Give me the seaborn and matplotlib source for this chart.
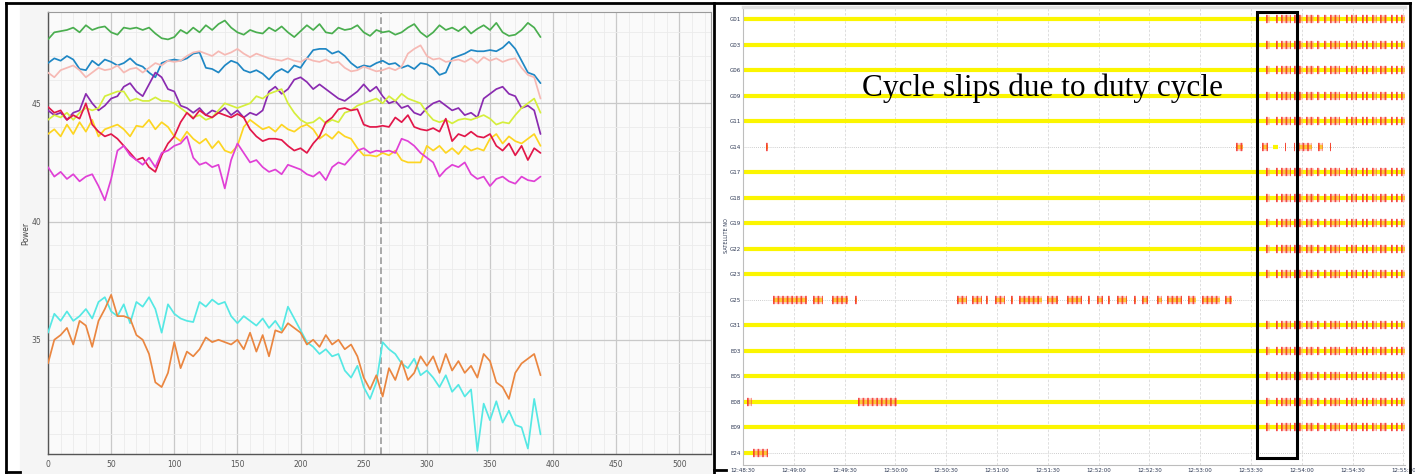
import numpy as np
import pandas as pd
import matplotlib
matplotlib.use("Agg")
import matplotlib.pyplot as plt
from matplotlib.lines import Line2D
from matplotlib.patches import Rectangle
from matplotlib.ticker import MultipleLocator, FixedLocator
import seaborn as sns

# ---------------- left panel: received power per satellite ----------------
SAMPLE = list(range(0, 391, 5))

POWER_GREEN = [47.7, 48.0, 48.05, 48.1, 48.2, 48.0, 48.3, 48.1, 48.2, 48.25,
               48.0, 47.9, 48.2, 48.15, 48.2, 48.1, 48.2, 47.95, 47.75, 47.7,
               47.8, 48.1, 47.95, 48.2, 48.0, 48.3, 48.1, 48.35, 48.5, 48.2,
               48.0, 47.9, 48.1, 48.0, 47.95, 48.2, 48.05, 48.25, 48.0, 47.8,
               48.05, 48.3, 48.1, 48.35, 48.0, 47.95, 48.2, 48.1, 48.15, 48.3,
               48.0, 47.85, 48.1, 48.0, 48.05, 47.9, 48.0, 48.2, 48.35, 48.0,
               47.8, 48.0, 48.3, 48.1, 48.2, 48.05, 48.25, 47.95, 48.15, 48.3,
               48.1, 48.4, 48.0, 47.85, 47.9, 48.1, 48.4, 48.2, 47.8]
POWER_BLUE = [46.7, 46.9, 46.8, 47.0, 46.85, 46.45, 46.4, 46.8, 46.6, 46.85,
              46.75, 46.6, 46.7, 46.9, 46.65, 46.55, 46.3, 46.1, 46.7, 46.8,
              46.85, 46.8, 46.9, 47.1, 47.15, 46.5, 46.45, 46.3, 46.6, 46.8,
              46.7, 46.4, 46.3, 46.4, 46.25, 46.0, 46.3, 46.45, 46.3, 46.6,
              46.5, 46.9, 47.25, 47.3, 47.3, 47.1, 47.2, 47.0, 46.7, 46.5,
              46.6, 46.55, 46.7, 46.8, 46.65, 46.7, 46.5, 46.6, 46.45, 46.7,
              46.65, 46.5, 46.2, 46.3, 46.9, 47.0, 47.1, 47.25, 47.2, 47.2,
              47.25, 47.2, 47.35, 47.6, 47.3, 46.8, 46.3, 46.2, 45.85]
POWER_PINK = [46.3, 46.1, 46.4, 46.5, 46.6, 46.4, 46.1, 46.3, 46.5, 46.4,
              46.45, 46.6, 46.3, 46.45, 46.5, 46.3, 46.5, 46.7, 46.6, 46.8,
              46.75, 46.8, 47.0, 47.15, 47.2, 47.1, 47.0, 47.2, 47.05, 47.15,
              47.3, 47.1, 46.95, 47.1, 47.0, 46.9, 46.85, 46.8, 46.9, 46.8,
              46.75, 46.9, 46.8, 46.75, 46.85, 46.7, 46.75, 46.5, 46.35, 46.4,
              46.55, 46.45, 46.35, 46.4, 46.5, 46.4, 46.55, 47.1, 47.3, 47.45,
              47.0, 46.85, 46.9, 46.75, 46.8, 46.85, 46.75, 46.9, 46.7, 46.95,
              46.8, 46.9, 46.75, 46.85, 46.9, 46.5, 46.2, 46.1, 45.2]
POWER_PURPLE = [44.7, 44.5, 44.6, 44.3, 44.6, 44.7, 45.4, 45.0, 44.7, 44.9,
                45.2, 45.3, 45.7, 45.85, 45.5, 45.3, 45.8, 46.3, 46.1, 45.6,
                45.5, 44.9, 44.8, 44.6, 44.8, 44.5, 44.7, 44.6, 44.8, 44.5,
                44.7, 44.4, 44.6, 44.5, 44.7, 45.5, 45.7, 45.4, 45.6, 46.0,
                46.1, 45.9, 45.6, 45.8, 45.6, 45.4, 45.2, 45.1, 45.3, 45.5,
                45.8, 45.5, 45.7, 45.3, 45.0, 45.1, 44.8, 44.9, 44.6, 44.5,
                44.8, 45.0, 45.1, 44.9, 44.7, 44.8, 44.5, 44.6, 44.4, 45.2,
                45.4, 45.6, 45.7, 45.4, 45.3, 44.8, 44.9, 44.7, 43.7]
POWER_LIME = [44.3, 44.5, 44.4, 44.6, 44.3, 44.6, 44.8, 44.7, 44.8, 45.3,
              45.4, 45.5, 45.5, 45.1, 45.2, 45.1, 45.1, 45.25, 45.1, 45.1,
              45.0, 44.8, 44.6, 44.4, 44.5, 44.3, 44.4, 44.7, 45.0, 44.9,
              44.8, 44.9, 45.0, 45.3, 45.2, 45.4, 45.5, 45.6, 45.0, 44.6,
              44.3, 44.15, 44.2, 44.4, 44.15, 44.3, 44.2, 44.6, 44.7, 44.9,
              45.0, 45.1, 45.2, 45.0, 45.3, 45.1, 45.4, 45.2, 45.1, 45.0,
              44.6, 44.3, 44.2, 44.3, 44.15, 44.3, 44.35, 44.3, 44.4, 44.5,
              44.35, 44.1, 44.2, 44.15, 44.5, 44.8, 45.0, 45.2, 44.6]
POWER_GOLD = [43.7, 43.9, 43.6, 44.1, 43.7, 44.2, 43.8, 44.3, 43.6, 43.9,
              44.0, 44.1, 43.9, 43.6, 44.05, 44.0, 44.3, 43.9, 44.2, 44.0,
              43.6, 43.4, 43.8, 43.5, 43.3, 43.5, 43.1, 43.4, 43.0, 42.9,
              43.2, 44.0, 44.3, 44.1, 43.9, 44.0, 43.8, 44.1, 43.9, 43.8,
              44.0, 44.1, 43.9, 43.5, 43.7, 43.5, 43.8, 43.6, 43.5, 43.1,
              42.8, 42.8, 42.75, 42.9, 42.8, 43.0, 42.6, 42.5, 42.5, 42.5,
              43.2, 43.0, 43.2, 42.9, 43.1, 42.85, 43.2, 43.0, 43.1, 43.0,
              43.5, 43.7, 43.3, 43.6, 43.4, 43.3, 43.5, 43.7, 43.2]
POWER_RED = [44.85, 44.6, 44.7, 44.3, 44.5, 44.35, 45.0, 44.1, 43.8, 43.6,
             43.7, 43.5, 43.2, 42.9, 42.6, 42.7, 42.3, 42.1, 42.8, 43.3,
             43.6, 44.2, 44.6, 44.35, 44.7, 44.5, 44.4, 44.6, 44.5, 44.4,
             44.55, 44.4, 43.9, 43.6, 43.4, 43.5, 43.5, 43.45, 43.2, 43.0,
             43.1, 42.9, 43.3, 43.6, 44.2, 44.4, 44.75, 44.8, 44.7, 44.75,
             44.1, 44.0, 44.0, 44.05, 44.0, 44.4, 44.2, 44.5, 44.0, 43.9,
             43.85, 43.95, 43.8, 44.35, 43.4, 43.7, 43.6, 43.8, 43.6, 43.55,
             43.7, 43.2, 43.0, 43.3, 42.8, 43.2, 42.6, 43.1, 42.9]
POWER_MAGENTA = [42.3, 41.9, 42.1, 41.8, 42.0, 41.7, 41.9, 42.0, 41.5, 40.9,
                 41.8, 43.0, 43.2, 42.8, 42.6, 42.4, 42.7, 42.3, 42.9, 43.0,
                 43.2, 43.3, 43.6, 42.7, 42.4, 42.5, 42.3, 42.4, 41.4, 42.6,
                 43.3, 42.9, 42.5, 42.6, 42.3, 42.1, 42.2, 42.0, 42.4, 42.3,
                 42.2, 42.0, 41.9, 42.1, 41.75, 42.3, 42.5, 42.4, 42.7, 43.0,
                 43.1, 42.9, 43.0, 42.95, 43.0, 42.9, 43.5, 43.4, 43.2, 42.9,
                 42.7, 42.5, 41.9, 42.2, 42.4, 42.3, 42.5, 42.0, 41.8, 41.9,
                 41.5, 41.8, 41.9, 41.7, 41.6, 41.9, 41.75, 41.7, 41.9]
POWER_CYAN = [35.3, 36.1, 35.8, 36.2, 35.8, 36.0, 36.3, 35.9, 36.6, 36.8,
              36.2, 36.0, 36.5, 35.7, 36.6, 36.4, 36.8, 36.3, 35.3, 36.5,
              36.1, 35.9, 35.8, 35.75, 36.6, 36.4, 36.7, 36.5, 36.6, 36.0,
              35.7, 36.0, 35.8, 35.6, 35.9, 35.5, 35.8, 35.4, 36.4, 35.9,
              35.4, 34.9, 34.7, 34.4, 34.6, 34.3, 34.4, 33.7, 33.4, 33.9,
              33.0, 32.5, 33.2, 34.9, 34.6, 34.4, 34.0, 33.8, 34.2, 33.5,
              33.7, 33.4, 33.0, 33.5, 32.8, 33.1, 32.6, 32.9, 30.3, 32.3,
              31.6, 32.4, 31.5, 32.0, 31.4, 31.3, 30.4, 32.5, 31.0]
POWER_ORANGE = [34.0, 35.0, 35.2, 35.5, 34.8, 35.8, 35.6, 34.7, 35.8, 36.3,
                36.9, 36.0, 36.0, 35.9, 35.2, 35.0, 34.4, 33.2, 33.0, 33.6,
                34.9, 33.8, 34.5, 34.3, 34.6, 35.1, 34.9, 35.0, 34.9, 34.8,
                35.0, 34.6, 35.3, 34.5, 35.2, 34.3, 35.4, 35.3, 35.7, 35.5,
                35.3, 34.8, 35.0, 34.7, 35.2, 34.8, 35.0, 34.6, 34.8, 34.3,
                33.4, 32.9, 33.5, 32.6, 33.8, 33.3, 34.1, 33.3, 33.6, 34.3,
                33.9, 34.3, 33.6, 34.4, 33.7, 34.1, 33.6, 33.9, 33.4, 34.4,
                34.1, 33.2, 33.0, 32.5, 33.6, 34.0, 34.2, 34.4, 33.5]

SERIES_NAMES = ["green", "blue", "pink", "purple", "lime", "gold", "red",
                "magenta", "cyan", "orange"]
SERIES_VALUES = [POWER_GREEN, POWER_BLUE, POWER_PINK, POWER_PURPLE, POWER_LIME,
                 POWER_GOLD, POWER_RED, POWER_MAGENTA, POWER_CYAN, POWER_ORANGE]
SERIES_COLORS = ["#4aae4f", "#1f87c4", "#f6b9b4", "#8a2bb0", "#d5ee3c",
                 "#fdd522", "#e2174a", "#e040d6", "#55e8e4", "#ea8640"]
CURSOR_X = 264

# ---------------- right panel: tracking / cycle slip timeline ----------------
SATS = ["G01", "G03", "G06", "G09", "G11", "G14", "G17", "G18", "G19",
        "G22", "G23", "G25", "G31", "E03", "E05", "E08", "E09", "E24"]
TIME_TICKS = [0, 30, 60, 90, 120, 150, 180, 210, 240, 270, 300, 330, 360, 390]
TIME_LABELS = ["12:48:30", "12:49:00", "12:49:30", "12:50:00", "12:50:30",
               "12:51:00", "12:51:30", "12:52:00", "12:52:30", "12:53:00",
               "12:53:30", "12:54:00", "12:54:30", "12:55:00"]
SESSION_END = 391

DUTY_SLIPS = [(309.0, 311.4), (314.9, 316.1), (317.9, 323.8), (325.6, 326.8),
              (328.6, 331.0), (332.8, 337.5), (339.2, 341.0), (343.4, 345.1),
              (346.9, 352.8), (356.4, 357.5), (359.3, 362.8), (365.8, 367.0),
              (368.2, 369.3), (371.7, 374.6), (376.4, 380.5), (382.9, 384.1),
              (385.8, 387.0), (388.8, 391.0)]
G14_TRACK = [(13.5, 14.5), (291.3, 295.4), (306.7, 310.2), (313.2, 316.1),
             (320.0, 321.0), (325.3, 326.3), (328.0, 336.2), (339.8, 342.7),
             (346.5, 347.5)]
G14_SLIPS = [(13.5, 14.5), (291.3, 295.4), (306.7, 310.2), (320.0, 321.0),
             (325.3, 326.3), (328.0, 336.2), (339.8, 342.7), (346.5, 347.5)]
G25_TRACK = [(17.7, 37.8), (41.4, 47.3), (52.6, 62.0), (66.3, 67.3),
             (126.5, 132.4), (135.3, 141.2), (143.7, 144.7), (148.9, 154.8),
             (158.5, 159.5), (163.1, 176.7), (179.6, 186.1), (191.5, 200.3),
             (204.0, 205.0), (209.2, 212.7), (215.8, 216.8), (221.0, 226.9),
             (231.1, 232.1), (235.8, 239.3), (244.6, 247.6), (250.5, 259.4),
             (262.9, 267.7), (271.2, 281.9), (284.8, 288.9)]
E08_SLIPS = [(2.4, 5.3), (68.1, 90.8)]
E24_TRACK = [(0.0, 14.8)]
E24_SLIPS = [(5.9, 14.8)]
SLIP_BOX = (303.7, 327.4)

tracks = {s: [(0.0, SESSION_END)] for s in SATS}
tracks["G14"] = G14_TRACK
tracks["G25"] = G25_TRACK
tracks["E24"] = E24_TRACK
slips = {s: list(DUTY_SLIPS) for s in SATS}
slips["G14"] = G14_SLIPS
slips["G25"] = G25_TRACK
slips["E08"] = E08_SLIPS + DUTY_SLIPS
slips["E24"] = E24_SLIPS

# ---------------- figure ----------------
W, H = 1415, 474
sns.set_theme(style="white")
plt.rcParams["font.family"] = ["DejaVu Sans"]
fig = plt.figure(figsize=(W / 100, H / 100), dpi=100)
fig.patch.set_facecolor("white")


def px_rect(x0, y0, x1, y1):
    return [x0 / W, 1 - y1 / H, (x1 - x0) / W, (y1 - y0) / H]


# panel backdrop for the power chart
fig.add_artist(Rectangle((20 / W, 0), (712 - 20) / W, 1 - 5 / H,
                         transform=fig.transFigure, color="#f5f5f5", zorder=-5))

ax1 = fig.add_axes(px_rect(48, 12, 711, 454))
ax1.set_facecolor("#fafafa")
df = pd.DataFrame({
    "t": np.tile(SAMPLE, len(SERIES_NAMES)),
    "power": np.concatenate([np.asarray(v, float) for v in SERIES_VALUES]),
    "series": np.repeat(SERIES_NAMES, len(SAMPLE)),
})
sns.lineplot(data=df, x="t", y="power", hue="series", hue_order=SERIES_NAMES,
             palette=dict(zip(SERIES_NAMES, SERIES_COLORS)), estimator=None,
             legend=False, linewidth=1.25, ax=ax1, zorder=3)
ax1.axvline(CURSOR_X, color="#9a9a9a", ls=(0, (4, 2)), lw=1.2, zorder=2)
ax1.set_xlim(0, 525)
ax1.set_ylim(30.17, 48.86)
ax1.xaxis.set_major_locator(MultipleLocator(50))
ax1.xaxis.set_minor_locator(MultipleLocator(10))
ax1.yaxis.set_major_locator(FixedLocator([35, 40, 45]))
ax1.yaxis.set_minor_locator(MultipleLocator(1))
ax1.grid(which="major", color="#c9c9c9", lw=0.9, zorder=0)
ax1.grid(which="minor", color="#ebebeb", lw=0.6, zorder=0)
ax1.set_axisbelow(True)
ax1.tick_params(axis="x", which="both", direction="in", length=3, width=0.8,
                color="#444", labelsize=5.5, labelcolor="#555", pad=4)
ax1.tick_params(axis="y", which="both", direction="out", length=3, width=0.8,
                color="#444", labelsize=5.5, labelcolor="#555", pad=2)
ax1.tick_params(axis="both", which="minor", length=2)
ax1.set_xlabel("")
ax1.set_ylabel("Power", fontsize=5.5, color="#444")
ax1.yaxis.set_label_coords(-0.027, 0.5)
for side in ["left", "bottom"]:
    ax1.spines[side].set_color("#555")
    ax1.spines[side].set_linewidth(1.0)
for side in ["top", "right"]:
    ax1.spines[side].set_color("#9a9a9a")
    ax1.spines[side].set_linewidth(0.8)

# ---------------- timeline ----------------
ax2 = fig.add_axes(px_rect(743, 7, 1405, 465))
ax2.set_facecolor("white")
ax2.set_xlim(0, SESSION_END)
ax2.set_ylim(len(SATS) - 0.53, -0.47)
ax2.set_xticks(TIME_TICKS)
ax2.set_xticklabels(TIME_LABELS)
ax2.set_yticks(range(len(SATS)))
ax2.set_yticklabels(SATS)
ax2.grid(axis="y", color="#bdbdbd", ls=(0, (1, 1.5)), lw=0.6, zorder=0)
ax2.grid(axis="x", color="#d9d9d9", ls=(0, (3, 2)), lw=0.6, zorder=0)
ax2.tick_params(axis="both", length=0, labelsize=4, labelcolor="#2a3550")
ax2.tick_params(axis="y", pad=1.5)
ax2.tick_params(axis="x", pad=2.5)
ax2.set_ylabel("SATELLITE NO", fontsize=3.6, color="#2a3550")
ax2.yaxis.set_label_coords(-0.021, 0.5)
ax2.spines["top"].set_color("#e0e0e0")
ax2.spines["top"].set_linewidth(2.5)
ax2.spines["left"].set_color("#bdbdbd")
ax2.spines["left"].set_linewidth(0.8)
ax2.spines["bottom"].set_color("#bdbdbd")
ax2.spines["bottom"].set_linewidth(0.8)
ax2.spines["right"].set_visible(False)

for row, sat in enumerate(SATS):
    for a, b in tracks[sat]:
        ax2.plot([a, b], [row, row], color="#fbf500", lw=3.0,
                 solid_capstyle="butt", zorder=2)
    for a, b in slips[sat]:
        ax2.plot([a, b], [row, row], color="#ff8f7a", lw=5.5, alpha=0.45,
                 solid_capstyle="butt", zorder=3)
        ax2.plot([a, b], [row, row], color="#f21d1d", lw=6.0, alpha=0.75,
                 dashes=(0.2, 0.35), dash_capstyle="butt", zorder=4)

ax2.add_patch(Rectangle((SLIP_BOX[0], -0.27), SLIP_BOX[1] - SLIP_BOX[0],
                        len(SATS) - 0.53, fill=False, ec="black", lw=2.2,
                        zorder=6, clip_on=False))
ax2.text(0.4517, 0.823, "Cycle slips due to duty cycle", transform=ax2.transAxes,
         ha="center", va="center", fontsize=22.5, family=["Liberation Serif"],
         color="black", zorder=7)

# ---------------- screenshot frames ----------------
def frame_line(x0, y0, x1, y1):
    fig.add_artist(Line2D([x0 / W, x1 / W], [1 - y0 / H, 1 - y1 / H],
                          color="black", lw=2.0, transform=fig.transFigure,
                          solid_capstyle="projecting", zorder=10))


frame_line(6, 3, 1410, 3)
frame_line(6, 3, 6, 472)
frame_line(6, 472, 20, 472)
frame_line(714, 3, 714, 474)
frame_line(714, 470, 726, 470)
frame_line(1410, 3, 1410, 474)

fig.savefig("out.png", dpi=100, facecolor="white")
